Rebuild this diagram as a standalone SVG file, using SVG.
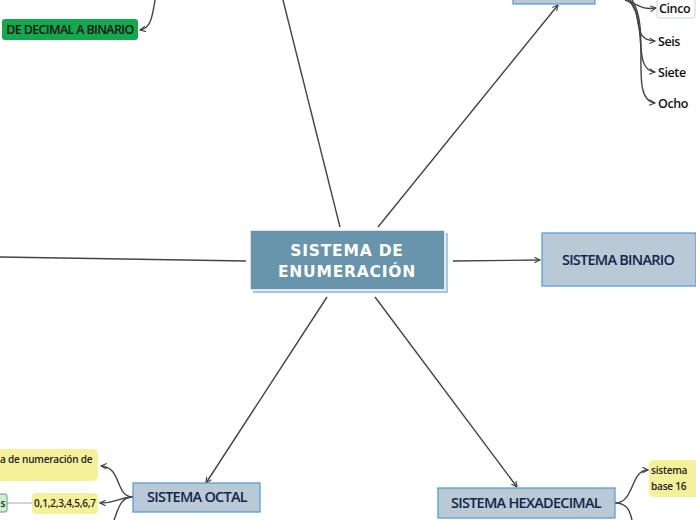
<svg xmlns="http://www.w3.org/2000/svg" width="696" height="520" viewBox="0 0 696 520">
<defs>
<marker id="ah" viewBox="0 0 10 10" refX="9" refY="5" markerWidth="7" markerHeight="7" orient="auto-start-reverse" markerUnits="userSpaceOnUse">
<path d="M1,1 L9,5 L1,9" fill="none" stroke="#444" stroke-width="1.6"/>
</marker>
<style>
.c{fill:none;stroke:#444;stroke-width:1.4}
.sub{fill:#b9cad6;stroke:#4a9ad6;stroke-width:1.2}
.st{font-family:"Open Sans","Noto Sans",sans-serif;font-size:14.5px;font-weight:600;fill:#14244a;text-anchor:middle;letter-spacing:-0.75px}
.lf{font-family:"Open Sans","Noto Sans",sans-serif;font-size:12.5px;font-weight:600;fill:#111;letter-spacing:-0.4px}
.y{fill:#f5f19a}
.yt{font-family:"Open Sans","Noto Sans",sans-serif;font-size:10px;font-weight:600;fill:#222;letter-spacing:-0.2px}
</style>
</defs>
<rect width="696" height="520" fill="#fff"/>
<g id="connectors">
<line class="c" x1="283" y1="0" x2="340" y2="227"/>
<line class="c" x1="0" y1="257" x2="246" y2="261"/>
<line class="c" x1="378" y1="227" x2="558" y2="5" marker-end="url(#ah)"/>
<line class="c" x1="453" y1="261" x2="540" y2="260" marker-end="url(#ah)"/>
<line class="c" x1="327" y1="297" x2="206" y2="483" marker-end="url(#ah)"/>
<line class="c" x1="375" y1="297" x2="517" y2="487" marker-end="url(#ah)"/>
<path class="c" d="M155,0 C152,20 150,28 140,30" marker-end="url(#ah)"/>
<path class="c" d="M625,0 C640,5 640,10 656,8" marker-end="url(#ah)"/>
<path class="c" d="M628,0 C645,15 630,40 655,41" marker-end="url(#ah)"/>
<path class="c" d="M630,0 C648,25 632,70 655,72" marker-end="url(#ah)"/>
<path class="c" d="M632,0 C652,30 628,100 655,103" marker-end="url(#ah)"/>
<path class="c" d="M133,497 C115,497 122,467 101,466" marker-end="url(#ah)"/>
<path class="c" d="M133,497 C118,497 118,503 100,503" marker-end="url(#ah)"/>
<path class="c" d="M133,497 C120,497 118,510 114,520"/>
<path class="c" d="M615,503 C635,503 630,470 648,470" marker-end="url(#ah)"/>
<path class="c" d="M615,503 C628,503 630,512 632,520"/>
<line x1="7" y1="503" x2="32" y2="503" stroke="#aaa" stroke-width="1"/>
</g>
<g id="center">
<rect x="253" y="233" width="195" height="60" fill="#a9c6d6"/>
<rect x="250" y="230" width="195" height="60" fill="#6895ab" stroke="#fff" stroke-width="1.5"/>
<text x="347" y="256" font-family="'DejaVu Sans',sans-serif" font-weight="bold" font-size="15.5" fill="#fff" text-anchor="middle" letter-spacing="0.8">SISTEMA DE</text>
<text x="347" y="277" font-family="'DejaVu Sans',sans-serif" font-weight="bold" font-size="15.5" fill="#fff" text-anchor="middle" letter-spacing="0.8">ENUMERACIÓN</text>
</g>
<g id="binario">
<rect class="sub" x="542" y="233" width="154" height="53" stroke="#7aa6c8"/>
<text class="st" x="618" y="265">SISTEMA BINARIO</text>
</g>
<g id="top-node">
<rect class="sub" x="513" y="-20" width="82" height="24"/>
</g>
<g id="cinco">
<rect x="657" y="-4" width="38" height="22" rx="3" fill="#fff" stroke="#d2e5f5" stroke-width="1.5"/>
<text class="lf" x="659" y="13">Cinco</text>
</g>
<g id="seis"><text class="lf" x="658" y="46">Seis</text></g>
<g id="siete"><text class="lf" x="658" y="77">Siete</text></g>
<g id="ocho"><text class="lf" x="658" y="108">Ocho</text></g>
<g id="decimal-binario">
<rect x="2" y="19" width="136" height="21" rx="3" fill="#12a84e"/>
<text x="70" y="34" font-family="'Open Sans','Noto Sans',sans-serif" font-size="12.5" font-weight="600" fill="#111" text-anchor="middle" letter-spacing="-0.65">DE DECIMAL A BINARIO</text>
</g>
<g id="octal">
<rect class="sub" x="133" y="483" width="127" height="29"/>
<text class="st" x="197" y="502">SISTEMA OCTAL</text>
</g>
<g id="oct-def">
<rect class="y" x="-10" y="449" width="108" height="32" rx="5"/>
<text class="yt" x="0" y="463">a de numeración de</text>
</g>
<g id="oct-digits">
<rect class="y" x="32" y="493" width="66" height="21" rx="4"/>
<text class="yt" x="65" y="507" text-anchor="middle">0,1,2,3,4,5,6,7</text>
</g>
<g id="oct-s">
<rect x="-6" y="494" width="13" height="18" rx="2" fill="#cdeed5" stroke="#6a9a7a" stroke-width="1"/>
<text class="yt" x="0.5" y="507">s</text>
</g>
<g id="hexa">
<rect class="sub" x="438" y="488" width="177" height="30"/>
<text class="st" x="526" y="508">SISTEMA HEXADECIMAL</text>
</g>
<g id="hex-def">
<rect class="y" x="649" y="460" width="60" height="37" rx="5"/>
<text class="yt" x="651" y="474" font-size="12">sistema</text>
<text class="yt" x="651" y="490" font-size="12">base 16</text>
</g>
</svg>
